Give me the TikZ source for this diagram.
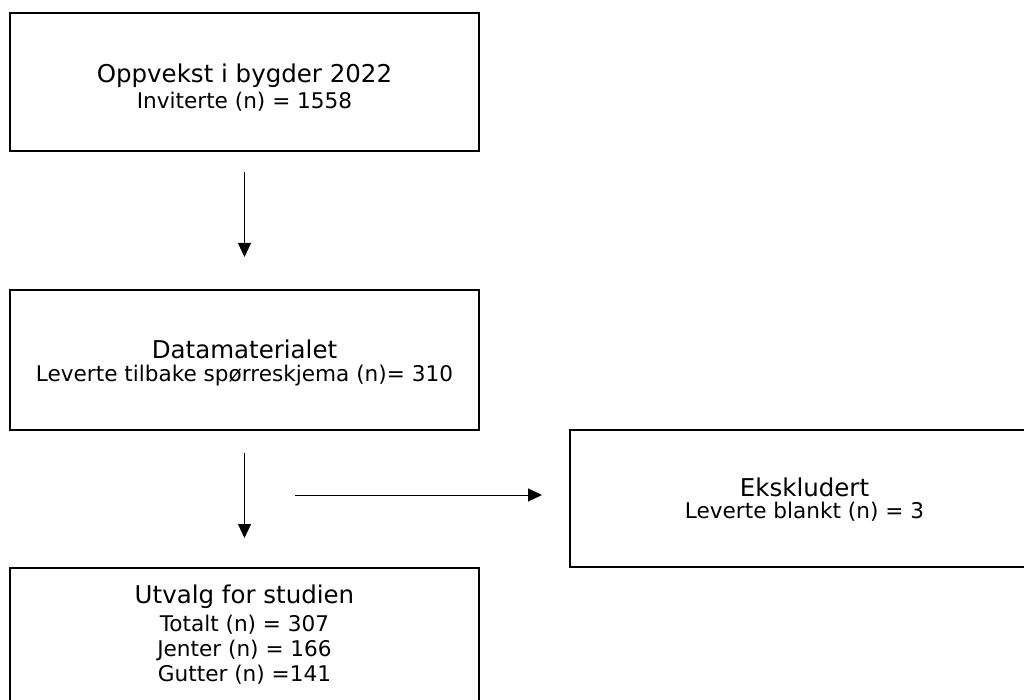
\documentclass[tikz,border=0pt]{standalone}
\usepackage{fontspec}
\setmainfont{DejaVu Sans}
\usetikzlibrary{arrows.meta}

\newcommand{\titlesize}{\fontsize{24.5}{28}\selectfont}
\newcommand{\subsize}{\fontsize{21.6}{25}\selectfont}

\begin{document}
\begin{tikzpicture}[x=1pt, y=-1pt,
  flowbox/.style={draw, line width=2pt, minimum width=469pt, inner sep=0pt},
  flowtext/.style={align=center, font=\subsize, anchor=base, inner sep=0pt},
  flowarrow/.style={line width=1pt, -{Triangle[length=14pt,width=13pt]}}]
\useasboundingbox (0,0) rectangle (1024,700);

% boxes
\draw (244.5,82) node[flowbox, minimum height=138pt] (invited) {};
\draw (244.5,109) node[flowtext] (invitedtxt) {{\titlesize Oppvekst i bygder 2022}\\[1pt]
  Inviterte (n) = 1558};

\draw (244.5,360) node[flowbox, minimum height=140pt] (data) {};
\draw (244.5,381) node[flowtext] (datatxt) {{\titlesize Datamaterialet}\\[-2pt]
  Leverte tilbake spørreskjema (n)= 310};

\draw (804.5,498.5) node[flowbox, minimum height=137pt] (excluded) {};
\draw (804.5,518) node[flowtext] (excludedtxt) {{\titlesize Ekskludert}\\[-3pt]
  Leverte blankt (n) = 3};

\draw (244.5,638) node[flowbox, minimum height=140pt] (sample) {};
\draw (244.5,681) node[flowtext] (sampletxt) {{\titlesize Utvalg for studien}\\[3pt]
  Totalt (n) = 307\\ Jenter (n) = 166\\ Gutter (n) =141};

% arrows
\draw[flowarrow, shorten <=20pt, shorten >=32pt] (invited.south) -- (data.north);
\draw[flowarrow, shorten <=22pt, shorten >=29pt] (data.south) -- (sample.north);
\coordinate (split) at (295,495);
\draw[flowarrow, shorten >=27pt] (split) -- (split -| excluded.west);
\end{tikzpicture}
\end{document}
